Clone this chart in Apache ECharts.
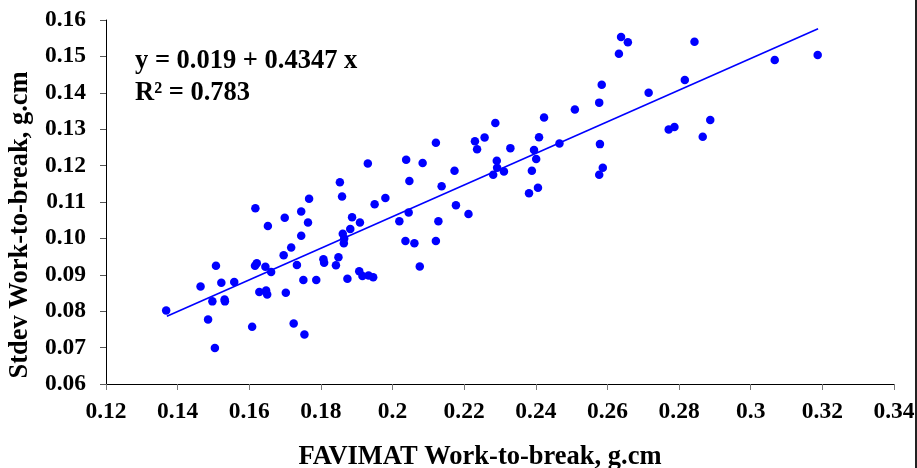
<!DOCTYPE html>
<html>
<head>
<meta charset="utf-8">
<script src="https://cdn.jsdelivr.net/npm/echarts@6/dist/echarts.min.js"></script>
<style>
html,body{margin:0;padding:0;background:#fff;}
#chart{width:917px;height:468px;}
</style>
</head>
<body>
<div id="chart"></div>
<script>
// FAVIMAT work-to-break (x) vs Stdev work-to-break (y)
const xValues = [
  0.1368,0.1464,0.1507,0.1522,0.1558,0.1497,0.1485,0.1531,0.1532,0.1504,
  0.1608,0.1616,0.1621,0.1628,0.1647,0.1650,0.1645,0.1661,0.1696,0.1702,
  0.1717,0.1733,0.1745,0.1724,0.1754,0.1751,0.1787,0.1807,0.1809,0.1842,
  0.1849,0.1861,0.1864,0.1874,0.1882,0.1907,0.1916,0.1933,0.1946,0.2036,
  0.2061,0.2076,0.2121,0.1617,0.1652,0.1699,0.1745,0.1764,0.1767,0.1853,
  0.1859,0.1887,0.1909,0.1931,0.1950,0.1980,0.2019,0.2038,0.2047,0.2045,
  0.2084,0.2121,0.2137,0.2128,0.2173,0.2177,0.2212,0.2230,0.2236,0.2257,
  0.2287,0.2281,0.2291,0.2292,0.2311,0.2329,0.2381,0.2389,0.2395,0.2401,
  0.2406,0.2409,0.2423,0.2466,0.2509,0.2577,0.2584,0.2579,0.2587,0.2577,
  0.2632,0.2638,0.2657,0.2715,0.2771,0.2787,0.2816,0.2843,0.2866,0.2887,
  0.3067,0.3187,0.1865
];
const yValues = [
  0.0802,0.0868,0.0925,0.0878,0.0880,0.0827,0.0777,0.0832,0.0827,0.0699,
  0.0757,0.0925,0.0932,0.0853,0.0857,0.0846,0.0922,0.0908,0.0954,0.0851,
  0.0975,0.0927,0.1007,0.0766,0.0736,0.0886,0.0886,0.0943,0.0933,0.0926,
  0.0948,0.1013,0.0987,0.0889,0.1026,0.0910,0.0897,0.0898,0.0893,0.0993,
  0.0987,0.0923,0.0993,0.1083,0.1034,0.1057,0.1074,0.1044,0.1109,0.1154,
  0.1115,0.1058,0.1044,0.1206,0.1094,0.1111,0.1047,0.1216,0.1158,0.1071,
  0.1207,0.1263,0.1143,0.1047,0.1186,0.1091,0.1067,0.1267,0.1245,0.1277,
  0.1317,0.1175,0.1213,0.1194,0.1184,0.1248,0.1124,0.1186,0.1243,0.1218,
  0.1139,0.1278,0.1332,0.1261,0.1354,0.1373,0.1422,0.1259,0.1194,0.1175,
  0.1507,0.1553,0.1539,0.1400,0.1299,0.1306,0.1435,0.1540,0.1279,0.1325,
  0.1490,0.1504,0.1000
];
// Fitted trend line end points
const trendX = [0.137, 0.3188];
const trendY = [0.0786, 0.1576];

const xTickLabels = ['0.12','0.14','0.16','0.18','0.2','0.22','0.24','0.26','0.28','0.3','0.32','0.34'];
const yTickLabels = ['0.06','0.07','0.08','0.09','0.10','0.11','0.12','0.13','0.14','0.15','0.16'];

const equationText = 'y = 0.019 + 0.4347 x';
const r2Text = 'R² = 0.783';
const xTitle = 'FAVIMAT Work-to-break, g.cm';
const yTitle = 'Stdev Work-to-break, g.cm';

const FONT = '"Liberation Serif", "Times New Roman", serif';

const chart = echarts.init(document.getElementById('chart'), null, {renderer: 'canvas'});
chart.setOption({
  animation: false,
  backgroundColor: '#fff',
  grid: {left: 106, right: 23, top: 20, bottom: 84, containLabel: false, outerBoundsMode: 'none'},
  xAxis: {
    type: 'value', min: 0.12, max: 0.34, interval: 0.02,
    name: xTitle, nameLocation: 'middle', nameGap: 60,
    nameTextStyle: {fontFamily: FONT, fontWeight: 'bold', fontSize: 26.5, color: '#000', padding: [0, 40, 0, 0]},
    axisLine: {show: true, lineStyle: {color: '#000', width: 1}},
    axisTick: {show: true, inside: false, length: 6, lineStyle: {color: '#777'}},
    axisLabel: {
      margin: 16, fontFamily: FONT, fontWeight: 'bold', fontSize: 23.5, color: '#000',
      formatter: function (v) { const i = Math.round((v - 0.12) / 0.02); return xTickLabels[i]; }
    },
    splitLine: {show: false}
  },
  yAxis: {
    type: 'value', min: 0.06, max: 0.16, interval: 0.01,
    name: yTitle, nameLocation: 'middle', nameGap: 68, nameRotate: 90,
    nameTextStyle: {fontFamily: FONT, fontWeight: 'bold', fontSize: 26.5, color: '#000', padding: [0, 46, 0, 0]},
    axisLine: {show: true, lineStyle: {color: '#000', width: 1}},
    axisTick: {show: true, inside: false, length: 6, lineStyle: {color: '#555'}},
    axisLabel: {
      margin: 20, fontFamily: FONT, fontWeight: 'bold', fontSize: 23.5, color: '#000',
      formatter: function (v) { const i = Math.round((v - 0.06) / 0.01); return yTickLabels[i]; }
    },
    splitLine: {show: false}
  },
  series: [
    {
      type: 'line',
      data: trendX.map((x, i) => [x, trendY[i]]),
      symbol: 'none',
      lineStyle: {color: '#0000FF', width: 1.6},
      z: 2
    },
    {
      type: 'scatter',
      data: xValues.map((x, i) => [x, yValues[i]]),
      symbol: 'circle',
      symbolSize: 8.5,
      itemStyle: {color: '#0000FF', opacity: 1},
      z: 3
    }
  ],
  graphic: [
    {type: 'text', left: 135, top: 48, style: {text: equationText, font: 'bold 26.5px ' + FONT, fill: '#000'}},
    {type: 'text', left: 135, top: 80, style: {text: r2Text, font: 'bold 26.5px ' + FONT, fill: '#000'}},
    {type: 'rect', shape: {x: 915, y: 0, width: 2, height: 468}, style: {fill: '#222'}}
  ]
});
</script>
</body>
</html>
